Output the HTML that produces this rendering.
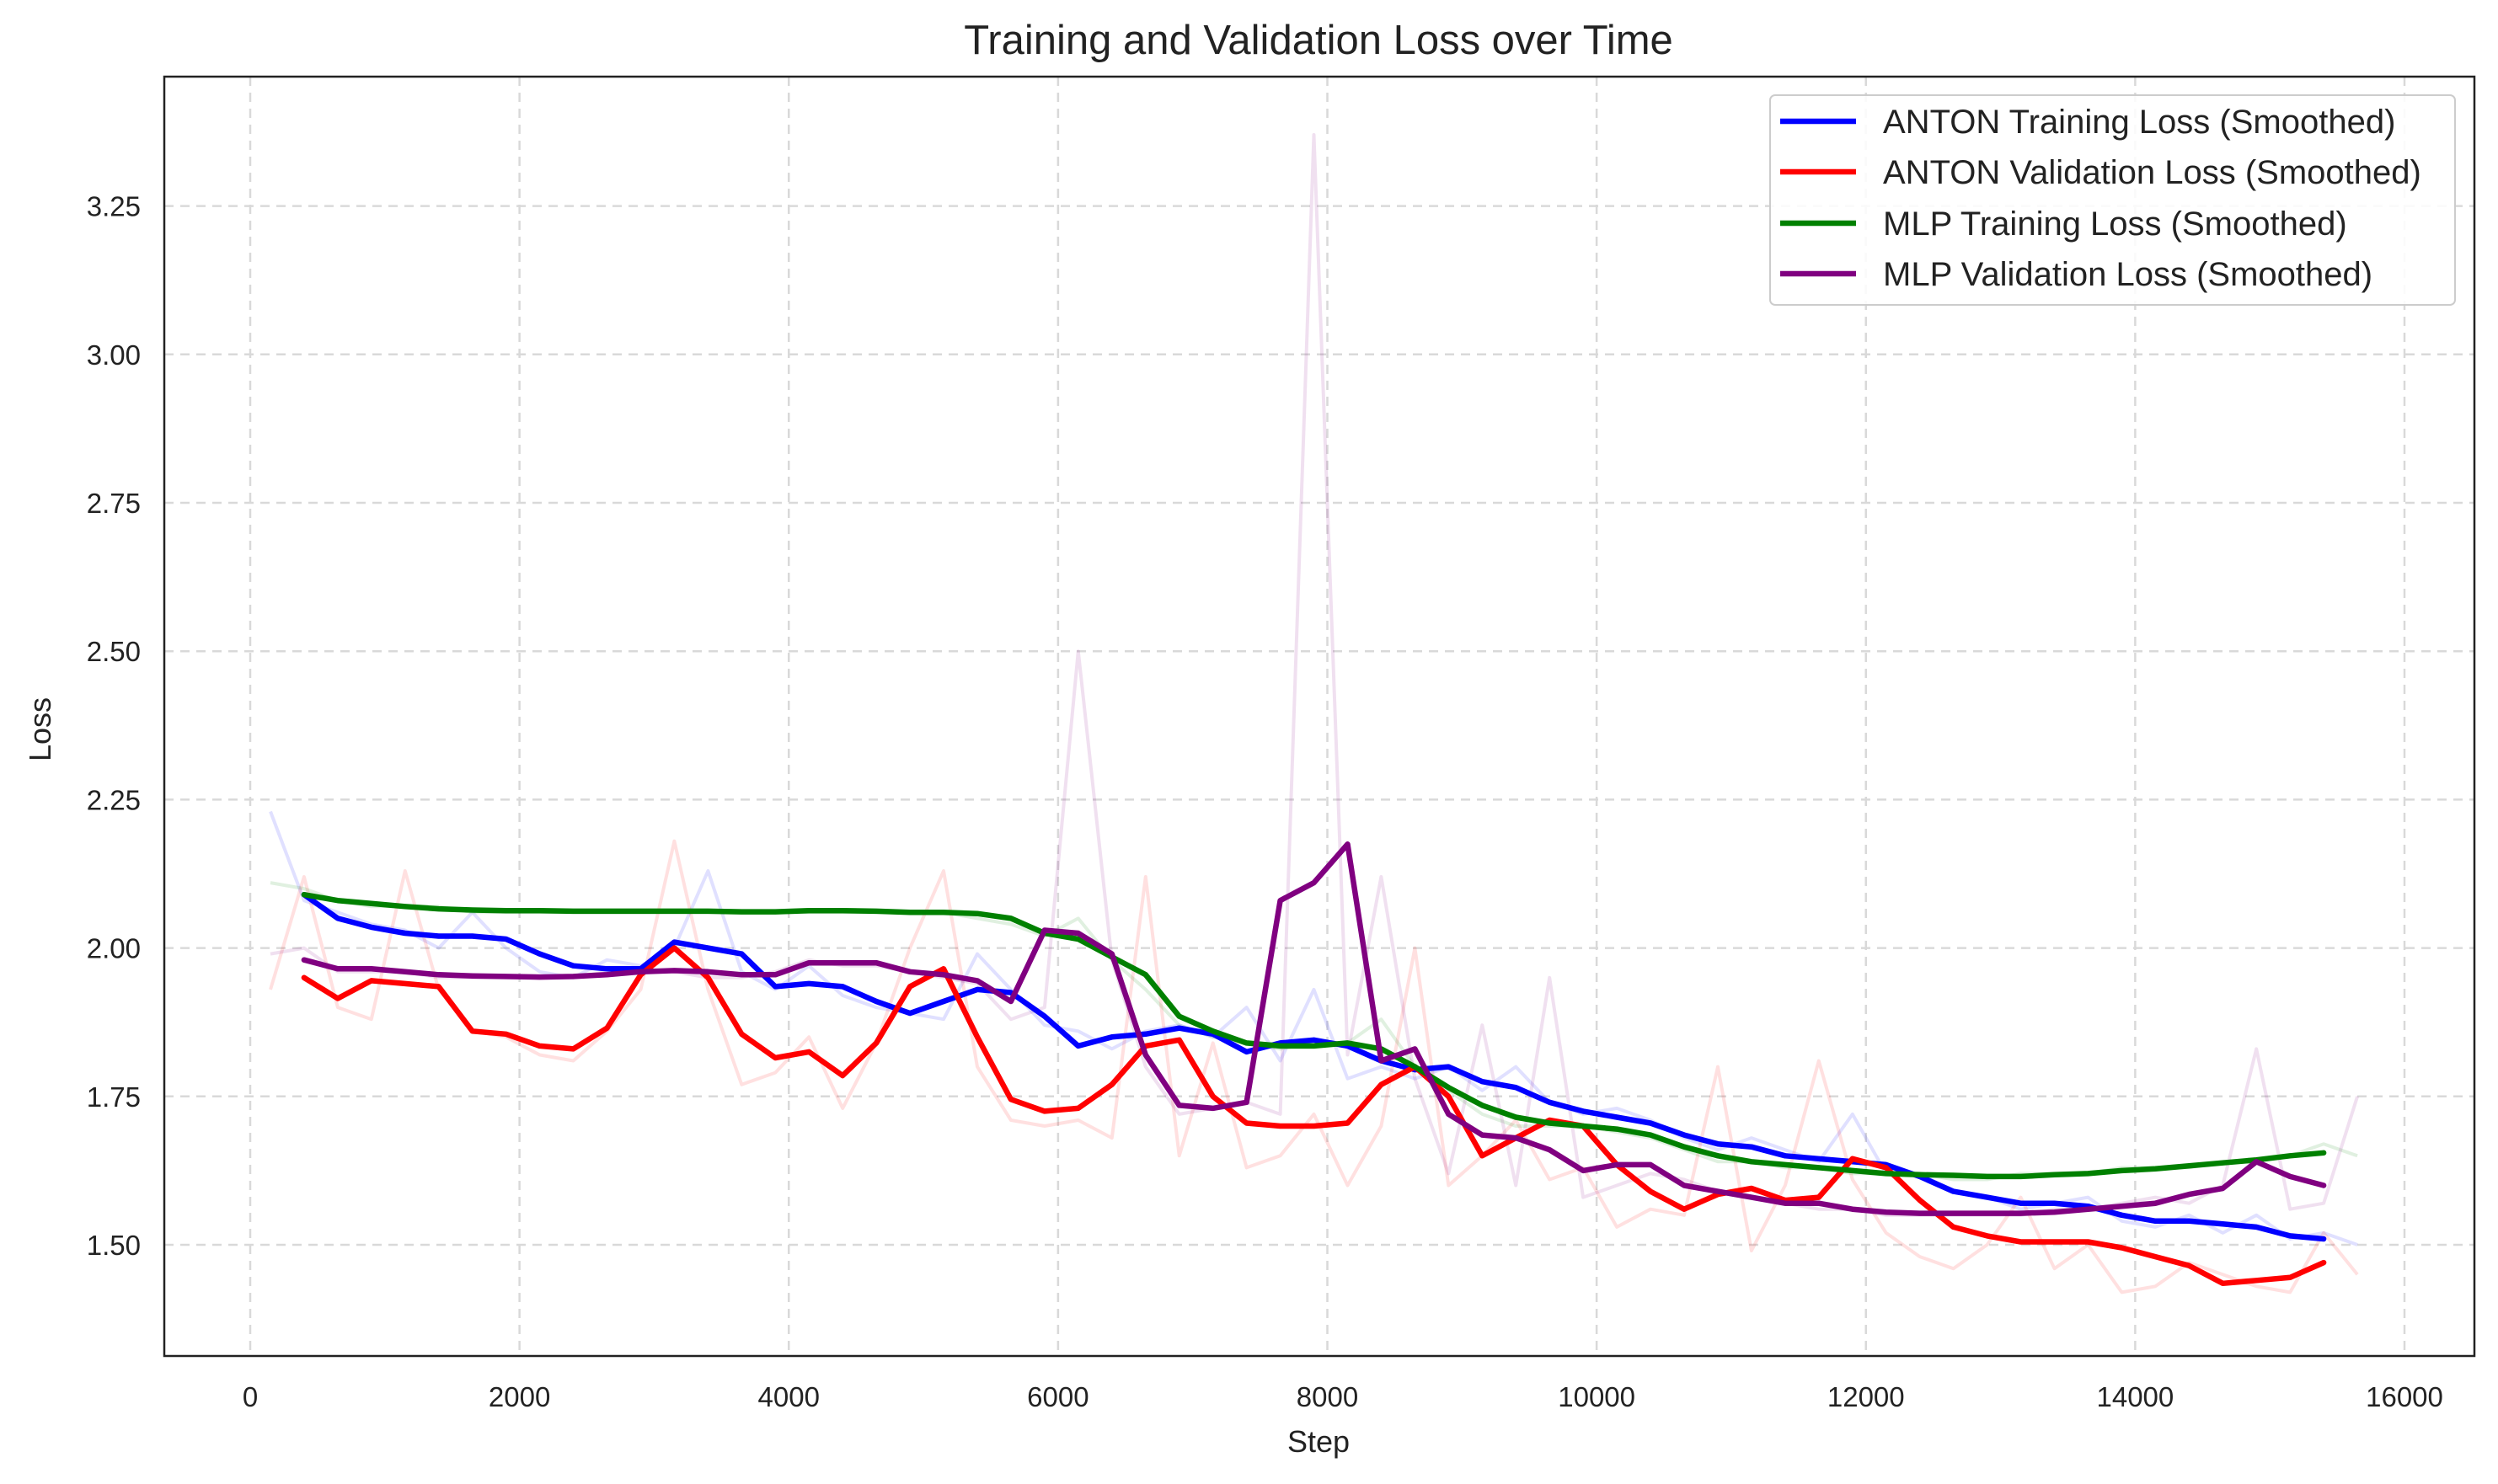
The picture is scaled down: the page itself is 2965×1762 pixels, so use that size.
<!DOCTYPE html>
<html><head><meta charset="utf-8"><style>
html,body{margin:0;padding:0;background:#fff}
svg{display:block;font-family:"Liberation Sans",Arial,sans-serif}
</style></head><body>
<svg id="chart" width="2965" height="1762" viewBox="0 0 2965 1762" xmlns="http://www.w3.org/2000/svg">
<rect width="2965" height="1762" fill="#fff"/>
<text x="1565" y="64" font-size="49" text-anchor="middle" fill="#222">Training and Validation Loss over Time</text>
<g id="grid"></g>
<g id="raw"></g>
<g id="smooth"></g>
<rect x="195" y="91" width="2742" height="1519" fill="none" stroke="#222" stroke-width="2.5"/>
<g id="ticks"></g>
<text x="1565" y="1724" font-size="36" text-anchor="middle" fill="#222">Step</text>
<text transform="translate(60,866) rotate(-90)" font-size="36" text-anchor="middle" fill="#222">Loss</text>
<g>
<rect x="2101" y="113" width="813" height="249" rx="6" fill="#fff" fill-opacity="0.85" stroke="#ccc" stroke-width="2"/>
<g><line x1="2113" x2="2203" y1="144" y2="144" stroke="#0000ff" stroke-width="6.5"/><text x="2235" y="158" font-size="40" fill="#222">ANTON Training Loss (Smoothed)</text></g>
<g><line x1="2113" x2="2203" y1="204" y2="204" stroke="#ff0000" stroke-width="6.5"/><text x="2235" y="218" font-size="40" fill="#222">ANTON Validation Loss (Smoothed)</text></g>
<g><line x1="2113" x2="2203" y1="265" y2="265" stroke="#008000" stroke-width="6.5"/><text x="2235" y="279" font-size="40" fill="#222">MLP Training Loss (Smoothed)</text></g>
<g><line x1="2113" x2="2203" y1="325" y2="325" stroke="#800080" stroke-width="6.5"/><text x="2235" y="339" font-size="40" fill="#222">MLP Validation Loss (Smoothed)</text></g>
</g>
</svg>
<script>
const xTicks = [0,2000,4000,6000,8000,10000,12000,14000,16000];
const yTicks = [1.50,1.75,2.00,2.25,2.50,2.75,3.00,3.25];
const smoothSteps = [400,650,900,1150,1400,1650,1900,2150,2400,2650,2900,3150,3400,3650,3900,4150,4400,4650,4900,5150,5400,5650,5900,6150,6400,6650,6900,7150,7400,7650,7900,8150,8400,8650,8900,9150,9400,9650,9900,10150,10400,10650,10900,11150,11400,11650,11900,12150,12400,12650,12900,13150,13400,13650,13900,14150,14400,14650,14900,15150,15400];
const antonTrain = [2.09,2.05,2.035,2.025,2.02,2.02,2.015,1.99,1.97,1.965,1.965,2.01,2.0,1.99,1.935,1.94,1.935,1.91,1.89,1.91,1.93,1.925,1.885,1.835,1.85,1.855,1.865,1.855,1.825,1.84,1.845,1.835,1.81,1.795,1.80,1.775,1.765,1.74,1.725,1.715,1.705,1.685,1.67,1.665,1.65,1.645,1.64,1.635,1.615,1.59,1.58,1.57,1.57,1.565,1.55,1.54,1.54,1.535,1.53,1.515,1.51];
const antonVal = [1.95,1.915,1.945,1.94,1.935,1.86,1.855,1.835,1.83,1.865,1.955,2.0,1.95,1.855,1.815,1.825,1.785,1.84,1.935,1.965,1.85,1.745,1.725,1.73,1.77,1.835,1.845,1.75,1.705,1.70,1.70,1.705,1.77,1.80,1.75,1.65,1.68,1.71,1.70,1.635,1.59,1.56,1.585,1.595,1.575,1.58,1.645,1.63,1.575,1.53,1.515,1.505,1.505,1.505,1.495,1.48,1.465,1.435,1.44,1.445,1.47];
const mlpTrain = [2.09,2.08,2.075,2.07,2.066,2.064,2.063,2.063,2.062,2.062,2.062,2.062,2.062,2.061,2.061,2.063,2.063,2.062,2.06,2.06,2.058,2.05,2.025,2.015,1.985,1.955,1.885,1.86,1.84,1.835,1.835,1.84,1.83,1.80,1.765,1.735,1.715,1.705,1.70,1.695,1.685,1.665,1.65,1.64,1.635,1.63,1.625,1.62,1.618,1.617,1.615,1.615,1.618,1.62,1.625,1.628,1.633,1.638,1.643,1.65,1.655];
const mlpVal = [1.98,1.965,1.965,1.96,1.955,1.953,1.952,1.951,1.952,1.955,1.96,1.962,1.96,1.955,1.955,1.975,1.975,1.975,1.96,1.955,1.945,1.91,2.03,2.025,1.99,1.82,1.735,1.73,1.74,2.08,2.11,2.175,1.81,1.83,1.72,1.685,1.68,1.66,1.625,1.635,1.635,1.60,1.59,1.58,1.57,1.57,1.56,1.555,1.553,1.553,1.553,1.553,1.555,1.56,1.565,1.57,1.585,1.595,1.64,1.615,1.60];
const rawSteps = [150,400,650,900,1150,1400,1650,1900,2150,2400,2650,2900,3150,3400,3650,3900,4150,4400,4650,4900,5150,5400,5650,5900,6150,6400,6650,6900,7150,7400,7650,7900,8150,8400,8650,8900,9150,9400,9650,9900,10150,10400,10650,10900,11150,11400,11650,11900,12150,12400,12650,12900,13150,13400,13650,13900,14150,14400,14650,14900,15150,15400,15650];
const rawAntonTrain = [2.23,2.08,2.06,2.04,2.03,2.0,2.06,2.0,1.96,1.95,1.98,1.97,2.0,2.13,1.96,1.93,1.97,1.92,1.90,1.89,1.88,1.99,1.93,1.87,1.86,1.83,1.86,1.87,1.85,1.90,1.81,1.93,1.78,1.80,1.78,1.80,1.76,1.80,1.74,1.72,1.73,1.71,1.68,1.66,1.68,1.66,1.64,1.72,1.62,1.62,1.59,1.58,1.56,1.57,1.58,1.54,1.53,1.55,1.52,1.55,1.51,1.52,1.50];
const rawAntonVal = [1.93,2.12,1.90,1.88,2.13,1.93,1.86,1.85,1.82,1.81,1.86,1.93,2.18,1.93,1.77,1.79,1.85,1.73,1.84,2.0,2.13,1.80,1.71,1.70,1.71,1.68,2.12,1.65,1.84,1.63,1.65,1.72,1.60,1.70,2.00,1.60,1.65,1.71,1.61,1.63,1.53,1.56,1.55,1.80,1.49,1.60,1.81,1.61,1.52,1.48,1.46,1.50,1.58,1.46,1.50,1.42,1.43,1.47,1.45,1.43,1.42,1.52,1.45];
const rawMlpTrain = [2.11,2.10,2.08,2.07,2.07,2.07,2.06,2.06,2.06,2.06,2.06,2.06,2.06,2.06,2.06,2.06,2.06,2.06,2.06,2.06,2.06,2.05,2.04,2.02,2.05,1.98,1.93,1.87,1.85,1.84,1.83,1.84,1.84,1.88,1.80,1.76,1.72,1.70,1.70,1.70,1.69,1.68,1.66,1.64,1.64,1.63,1.63,1.62,1.62,1.62,1.61,1.61,1.62,1.62,1.62,1.63,1.63,1.63,1.64,1.64,1.65,1.67,1.65];
const rawMlpVal = [1.99,2.0,1.96,1.96,1.96,1.95,1.95,1.95,1.95,1.95,1.96,1.96,1.96,1.95,1.95,1.96,1.98,1.97,1.97,1.96,1.95,1.94,1.88,1.90,2.50,1.98,1.80,1.72,1.73,1.74,1.72,3.37,1.82,2.12,1.78,1.62,1.87,1.60,1.95,1.58,1.60,1.62,1.61,1.59,1.58,1.57,1.56,1.56,1.55,1.55,1.55,1.55,1.55,1.56,1.56,1.57,1.58,1.57,1.60,1.83,1.56,1.57,1.75];

const NS='http://www.w3.org/2000/svg';
const X0=195,X1=2937,Y0=91,Y1=1610;
function xs(v){return 297+(v/16000)*(2854-297);}
function ys(v){return 1478-((v-1.5)/0.25)*176.2;}
function mk(tag,attrs,parent){const e=document.createElementNS(NS,tag);for(const k in attrs)e.setAttribute(k,attrs[k]);parent.appendChild(e);return e;}
const grid=document.getElementById('grid'),ticks=document.getElementById('ticks');
xTicks.forEach(t=>{
  const x=xs(t);
  const g=mk('line',{x1:x,x2:x,y1:Y0,y2:Y1,stroke:'#d9d9d9','stroke-width':2.5,'stroke-dasharray':'11,8'},grid);
  
  
  const tx=mk('text',{x:x,y:1670,'font-size':33,'text-anchor':'middle',fill:'#222'},ticks);
  tx.textContent=String(t);
  
  
});
yTicks.forEach(t=>{
  const y=ys(t);
  const g=mk('line',{x1:X0,x2:X1,y1:y,y2:y,stroke:'#d9d9d9','stroke-width':2.5,'stroke-dasharray':'11,8'},grid);
  
  
  const tx=mk('text',{x:167,y:y+12,'font-size':33,'text-anchor':'end',fill:'#222'},ticks);
  tx.textContent=t.toFixed(2);
  
  
});
function pts(steps,vals){const n=Math.min(steps.length,vals.length);let s=[];for(let i=0;i<n;i++)s.push(xs(steps[i]).toFixed(1)+','+ys(vals[i]).toFixed(1));return s.join(' ');}
const rawG=document.getElementById('raw'),smG=document.getElementById('smooth');
const colors=['#0000ff','#ff0000','#008000','#800080'];
const raws=[rawAntonTrain,rawAntonVal,rawMlpTrain,rawMlpVal];
const sms=[antonTrain,antonVal,mlpTrain,mlpVal];
const names=['anton-train','anton-val','mlp-train','mlp-val'];
raws.forEach((r,i)=>{
  const p=mk('polyline',{points:pts(rawSteps,r),fill:'none',stroke:colors[i],'stroke-opacity':0.12,'stroke-width':4,'stroke-linejoin':'round'},rawG);
  
  
});
sms.forEach((r,i)=>{
  const p=mk('polyline',{points:pts(smoothSteps,r),fill:'none',stroke:colors[i],'stroke-width':6.5,'stroke-linejoin':'round','stroke-linecap':'round'},smG);
  
  
});
</script>
</body></html>
